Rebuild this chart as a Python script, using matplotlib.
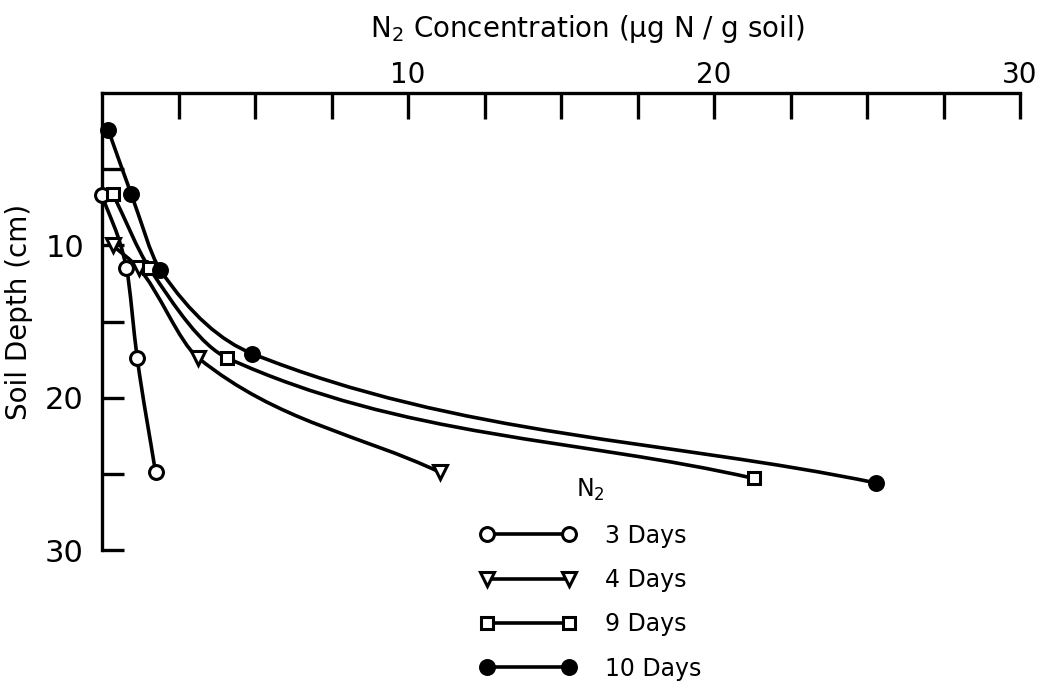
import numpy as np
import matplotlib
matplotlib.use("Agg")
import matplotlib.pyplot as plt
from matplotlib.path import Path
from matplotlib.patches import PathPatch
from matplotlib.lines import Line2D
from matplotlib.ticker import FixedLocator, NullFormatter

plt.rcParams["font.family"] = ["DejaVu Sans"]

# N2 concentration (ug N / g soil) vs soil depth (cm) for each incubation time
days_3_conc = [0.0, 0.8, 1.15, 1.75]
days_3_depth = [6.7, 11.5, 17.4, 24.9]

days_4_conc = [0.35, 1.2, 3.15, 11.05]
days_4_depth = [10.0, 11.5, 17.4, 24.9]

days_9_conc = [0.35, 1.55, 4.1, 21.3]
days_9_depth = [6.6, 11.5, 17.4, 25.3]

days_10_conc = [0.2, 0.95, 1.9, 4.9, 25.3]
days_10_depth = [2.4, 6.6, 11.6, 17.1, 25.6]

series_labels = ["3 Days", "4 Days", "9 Days", "10 Days"]

LW = 2.6
MEW = 2.2
INK = "black"


def hermite_slopes(x, y):
    """Shape-preserving (PCHIP style) slopes at each knot."""
    x = np.asarray(x, float)
    y = np.asarray(y, float)
    h = np.diff(x)
    s = np.diff(y) / h
    d = np.empty_like(y)
    d[0] = s[0]
    d[-1] = s[-1]
    for k in range(1, len(x) - 1):
        if s[k - 1] * s[k] <= 0:
            d[k] = 0.0
        else:
            w1 = 2 * h[k] + h[k - 1]
            w2 = h[k] + 2 * h[k - 1]
            d[k] = (w1 + w2) / (w1 / s[k - 1] + w2 / s[k])
    return d


def smooth_path(x, y):
    """Cubic Bezier path through the data points (Hermite form)."""
    d = hermite_slopes(x, y)
    verts = [(x[0], y[0])]
    codes = [Path.MOVETO]
    for k in range(len(x) - 1):
        h = x[k + 1] - x[k]
        verts += [
            (x[k] + h / 3, y[k] + d[k] * h / 3),
            (x[k + 1] - h / 3, y[k + 1] - d[k + 1] * h / 3),
            (x[k + 1], y[k + 1]),
        ]
        codes += [Path.CURVE4] * 3
    return Path(verts, codes)


fig = plt.figure(figsize=(10.42, 6.83), dpi=100)
ax = fig.add_axes([0.0979, 0.1947, 0.8810, 0.6691])

ax.set_xlim(0, 30)
ax.set_ylim(30, 0)

series = [
    (days_3_conc, days_3_depth, dict(marker="o", mfc="white")),
    (days_4_conc, days_4_depth, dict(marker="v", mfc="white")),
    (days_9_conc, days_9_depth, dict(marker="s", mfc="white")),
    (days_10_conc, days_10_depth, dict(marker="o", mfc=INK)),
]

handles = []
for (xs, ys, style), label in zip(series, series_labels):
    ax.add_patch(PathPatch(smooth_path(xs, ys), fill=False, lw=LW,
                           edgecolor=INK, capstyle="round", zorder=2))
    ms = 10 if style["marker"] != "s" else 9
    ax.plot(xs, ys, ls="none", marker=style["marker"], ms=ms,
            mfc=style["mfc"], mec=INK, mew=MEW, zorder=3, clip_on=False)
    handles.append(Line2D([], [], color=INK, lw=LW, marker=style["marker"],
                          ms=ms, mfc=style["mfc"], mec=INK, mew=MEW,
                          label=label))

# axis frame: top and left only
for side in ("right", "bottom"):
    ax.spines[side].set_visible(False)
for side in ("top", "left"):
    ax.spines[side].set_linewidth(2.4)
    ax.spines[side].set_capstyle("projecting")

ax.xaxis.tick_top()
ax.xaxis.set_major_locator(FixedLocator([10, 20, 30]))
ax.xaxis.set_minor_locator(FixedLocator([2.5, 5, 7.5, 12.5, 15, 17.5,
                                         22.5, 25, 27.5]))
ax.tick_params(axis="x", which="both", direction="in", length=19,
               width=2.4, top=True, bottom=False)
ax.tick_params(axis="x", which="major", labelsize=20, pad=3)

ax.yaxis.set_major_locator(FixedLocator([10, 20, 30]))
ax.yaxis.set_minor_locator(FixedLocator([5, 15, 25]))
ax.tick_params(axis="y", which="both", direction="in", length=16,
               width=2.4, left=True, right=False)
ax.tick_params(axis="y", which="major", labelsize=22, pad=13)
ax.yaxis.set_minor_formatter(NullFormatter())
ax.xaxis.set_minor_formatter(NullFormatter())

fig.text(0.564, 0.958, "N$_2$ Concentration (µg N / g soil)",
         ha="center", va="center", fontsize=20)
ax.set_ylabel("Soil Depth (cm)", fontsize=20)
ax.yaxis.set_label_coords(-0.075, 0.52)

leg = ax.legend(handles=handles, title="N$_2$", loc="upper left",
                bbox_to_anchor=(459 / 1042, 1 - 456 / 683),
                bbox_transform=fig.transFigure, frameon=False, numpoints=2,
                fontsize=17, title_fontsize=17, handlelength=4.07,
                handletextpad=1.2, labelspacing=0.86)

fig.savefig("out.png", dpi=100)
